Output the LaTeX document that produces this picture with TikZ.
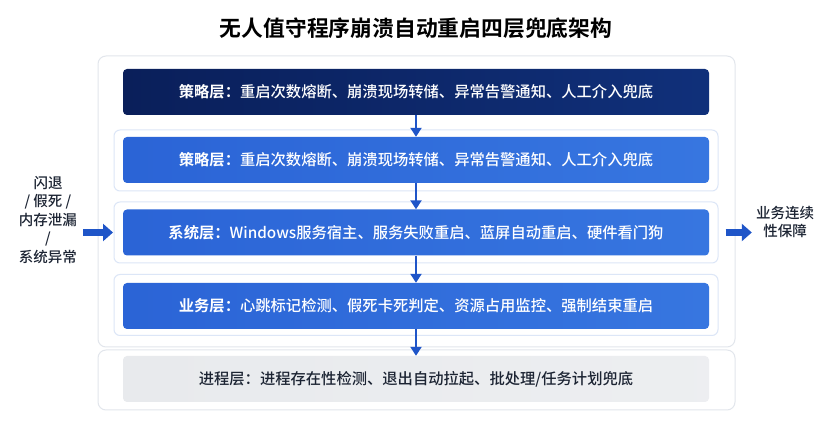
\documentclass[tikz,border=0pt]{standalone}
\usepackage{fontspec}
\setmainfont{Noto Sans CJK SC}[UprightFont=* Medium, BoldFont=* Bold]
\usetikzlibrary{arrows.meta}
\definecolor{navy}{HTML}{0C2766}
\definecolor{navyL}{HTML}{0A1F5A}
\definecolor{navyR}{HTML}{10307A}
\definecolor{blueL}{HTML}{2B64D6}
\definecolor{blueR}{HTML}{3776E0}
\definecolor{frameblue}{HTML}{DCE6F7}
\definecolor{contgray}{HTML}{E2E6EC}
\definecolor{arrowblue}{HTML}{1F55C8}
\definecolor{grayfill}{HTML}{E8EAED}
\definecolor{textdark}{HTML}{1C2433}
\begin{document}
\begin{tikzpicture}[x=1pt,y=-1pt,
  container/.style={draw=contgray, line width=1pt, fill=white, rounded corners=8pt, minimum width=637pt, inner sep=0pt},
  layerframe/.style={draw=frameblue, line width=1pt, fill=white, rounded corners=6pt, minimum width=604pt, minimum height=61pt, inner sep=0pt},
  layerbox/.style={rounded corners=4pt, minimum width=586pt, minimum height=46pt, inner sep=0pt, font=\fontsize{15.3}{18}\selectfont, text=white},
  bluebox/.style={layerbox, left color=blueL, right color=blueR},
  downarrow/.style={draw=arrowblue, line width=2.4pt, -{Triangle[length=9pt,width=11pt]}},
  blockarrow/.style={draw=arrowblue, line width=6.5pt, -{Triangle[length=10pt,width=17pt]}},
  side/.style={align=center, font=\fontsize{14.5}{18.5}\selectfont, text=textdark, inner sep=0pt}]
\fill[white] (0,0) rectangle (838,435);
\useasboundingbox (0,0) rectangle (838,435);
% title
\node[font=\fontsize{21.8}{24}\selectfont\bfseries, text=black] (title) at (416,28) {无人值守程序崩溃自动重启四层兜底架构};
% containers
\node[container, minimum height=291pt] (upper) at (416.5,201.5) {};
\node[container, minimum height=60pt] (lower) at (416.5,380) {};
% frames
\node[layerframe] (f2) at (416,160.5) {};
\node[layerframe] (f3) at (416,232.5) {};
\node[layerframe] (f4) at (416,305) {};
% boxes
\node[layerbox, left color=navyL, right color=navyR] (b1) at (416,92) {\textbf{策略层：}重启次数熔断、崩溃现场转储、异常告警通知、人工介入兜底};
\node[bluebox] (b2) at (416,160) {\textbf{策略层：}重启次数熔断、崩溃现场转储、异常告警通知、人工介入兜底};
\node[bluebox] (b3) at (416,232.5) {\textbf{系统层：}Windows服务宿主、服务失败重启、蓝屏自动重启、硬件看门狗};
\node[bluebox] (b4) at (416,306) {\textbf{业务层：}心跳标记检测、假死卡死判定、资源占用监控、强制结束重启};
\node[layerbox, left color=grayfill, right color=grayfill!80!white, text=textdark] (b5) at (416,379) {进程层：进程存在性检测、退出自动拉起、批处理/任务计划兜底};
% down arrows
\draw[downarrow] (b1.south) -- (b2.north);
\draw[downarrow] (b2.south) -- (b3.north);
\draw[downarrow] (b3.south) -- (b4.north);
\draw[downarrow] (b4.south) -- (b5.north);
% side texts
\node[side] (cause) at (48,220) {闪退\\/ 假死 /\\内存泄漏\\/\\系统异常};
\node[side] (goal) at (785,222) {业务连续\\性保障};
\draw[blockarrow, shorten <=6pt, shorten >=0.5pt] (cause.east |- b3.center) -- (f3.west);
\draw[blockarrow, shorten <=7pt, shorten >=4pt] (f3.east) -- (goal.west |- b3.center);
\end{tikzpicture}
\end{document}
